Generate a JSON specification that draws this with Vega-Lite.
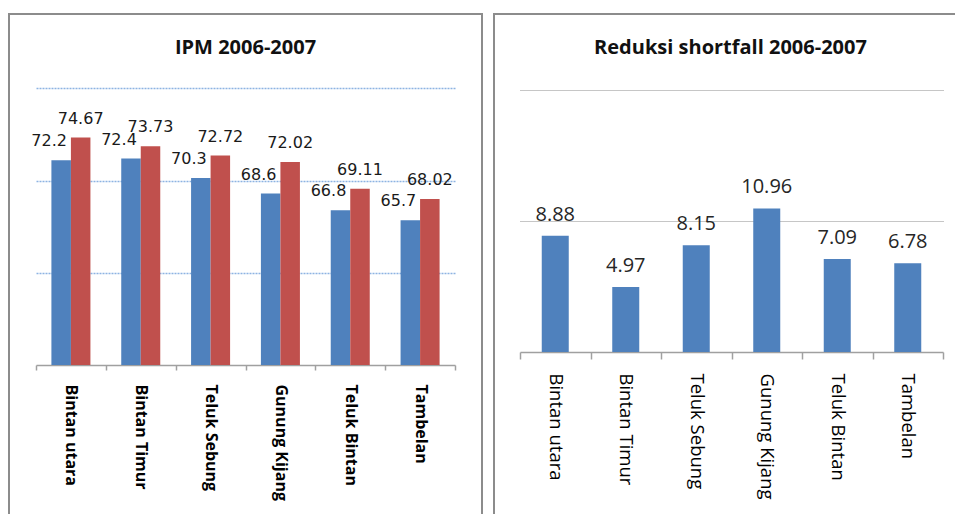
{
  "$schema": "https://vega.github.io/schema/vega-lite/v6.json",
  "padding": {"left": 0, "top": 13, "right": 0, "bottom": 0},
  "spacing": 0,
  "background": "white",
  "config": {
    "view": {"stroke": "#8c8c8c", "strokeWidth": 2},
    "legend": {"disable": true}
  },
  "datasets": {
    "ipm": [
      {"kecamatan": "Bintan utara", "tahun": "2006", "ipm": 72.2},
      {"kecamatan": "Bintan utara", "tahun": "2007", "ipm": 74.67},
      {"kecamatan": "Bintan Timur", "tahun": "2006", "ipm": 72.4},
      {"kecamatan": "Bintan Timur", "tahun": "2007", "ipm": 73.73},
      {"kecamatan": "Teluk Sebung", "tahun": "2006", "ipm": 70.3},
      {"kecamatan": "Teluk Sebung", "tahun": "2007", "ipm": 72.72},
      {"kecamatan": "Gunung Kijang", "tahun": "2006", "ipm": 68.6},
      {"kecamatan": "Gunung Kijang", "tahun": "2007", "ipm": 72.02},
      {"kecamatan": "Teluk Bintan", "tahun": "2006", "ipm": 66.8},
      {"kecamatan": "Teluk Bintan", "tahun": "2007", "ipm": 69.11},
      {"kecamatan": "Tambelan", "tahun": "2006", "ipm": 65.7},
      {"kecamatan": "Tambelan", "tahun": "2007", "ipm": 68.02}
    ],
    "shortfall": [
      {"kecamatan": "Bintan utara", "reduksi": 8.88},
      {"kecamatan": "Bintan Timur", "reduksi": 4.97},
      {"kecamatan": "Teluk Sebung", "reduksi": 8.15},
      {"kecamatan": "Gunung Kijang", "reduksi": 10.96},
      {"kecamatan": "Teluk Bintan", "reduksi": 7.09},
      {"kecamatan": "Tambelan", "reduksi": 6.78}
    ]
  },
  "hconcat": [
    {
      "width": 473,
      "height": 510,
      "title": {"text": "IPM 2006-2007", "offset": -60, "baseline": "alphabetic", "anchor": "middle", "font": "Open Sans", "fontSize": 20, "fontWeight": "bold", "color": "#111111"},
      "data": {"name": "ipm"},
      "encoding": {
        "x": {
          "field": "kecamatan", "type": "nominal", "sort": null,
          "scale": {"range": [27, 446], "paddingInner": 0, "paddingOuter": 0},
          "axis": {
            "title": null, "offset": -159, "labelAngle": 90, "labelAlign": "left", "labelBaseline": "middle",
            "labelFont": "Open Sans", "labelFontWeight": "bold", "labelFontSize": 16, "labelColor": "#000000",
            "labelPadding": 14, "labelLimit": 300, "tickSize": 5, "tickColor": "#a0a0a0", "tickWidth": 1.5,
            "domainColor": "#a0a0a0", "domainWidth": 1.5, "tickBand": "extent", "minExtent": 0, "maxExtent": 0
          }
        },
        "xOffset": {"field": "tahun", "type": "nominal", "scale": {"paddingInner": 0, "paddingOuter": 0.79}},
        "y": {
          "field": "ipm", "type": "quantitative",
          "scale": {"domain": [32.75, 88.08], "nice": false, "zero": false},
          "axis": {"title": null, "labels": false, "ticks": false, "domain": false, "grid": true, "values": [60, 70, 80], "gridColor": "#8DB3E2", "gridDash": [2, 1], "gridWidth": 1.5, "minExtent": 0, "maxExtent": 0}
        }
      },
      "layer": [
        {
          "mark": {"type": "bar"},
          "encoding": {
            "y2": {"datum": 50},
            "color": {"field": "tahun", "type": "nominal", "scale": {"domain": ["2006", "2007"], "range": ["#4F81BD", "#C0504D"]}, "legend": null}
          }
        },
        {
          "transform": [{"filter": "datum.tahun == '2006'"}],
          "mark": {"type": "text", "dx": -12, "dy": -14, "baseline": "alphabetic", "font": "DejaVu Sans", "fontSize": 16, "color": "#1a1a1a"},
          "encoding": {"text": {"field": "ipm", "type": "quantitative"}}
        },
        {
          "transform": [{"filter": "datum.tahun == '2007'"}],
          "mark": {"type": "text", "dy": -14, "baseline": "alphabetic", "font": "DejaVu Sans", "fontSize": 16, "color": "#1a1a1a"},
          "encoding": {"text": {"field": "ipm", "type": "quantitative"}}
        }
      ]
    },
    {
      "width": 473,
      "height": 510,
      "title": {"text": "Reduksi shortfall 2006-2007", "offset": -60, "baseline": "alphabetic", "anchor": "middle", "font": "Open Sans", "fontSize": 20, "fontWeight": "bold", "color": "#111111"},
      "data": {"name": "shortfall"},
      "encoding": {
        "x": {
          "field": "kecamatan", "type": "nominal", "sort": null,
          "scale": {"range": [26, 449], "paddingInner": 0, "paddingOuter": 0},
          "axis": {
            "title": null, "offset": -172, "labelAngle": 90, "labelAlign": "left", "labelBaseline": "middle",
            "labelFont": "Open Sans", "labelFontSize": 18.5, "labelColor": "#000000",
            "labelPadding": 14, "labelLimit": 300, "tickSize": 7, "tickColor": "#a0a0a0", "tickWidth": 1.5,
            "domainColor": "#a0a0a0", "domainWidth": 1.5, "tickBand": "extent", "minExtent": 0, "maxExtent": 0
          }
        },
        "y": {
          "field": "reduksi", "type": "quantitative",
          "scale": {"domain": [-13.13, 25.8], "nice": false, "zero": false},
          "axis": {"title": null, "labels": false, "ticks": false, "domain": false, "grid": true, "values": [10, 20], "gridColor": "#8c8c8c", "gridDash": [1, 1], "gridWidth": 1, "minExtent": 0, "maxExtent": 0}
        }
      },
      "layer": [
        {
          "mark": {"type": "bar", "color": "#4F81BD", "width": {"band": 0.383}},
          "encoding": {"y2": {"datum": 0}}
        },
        {
          "mark": {"type": "text", "dy": -15, "baseline": "alphabetic", "font": "Open Sans", "fontSize": 20, "color": "#262626"},
          "encoding": {"text": {"field": "reduksi", "type": "quantitative"}}
        }
      ]
    }
  ]
}
